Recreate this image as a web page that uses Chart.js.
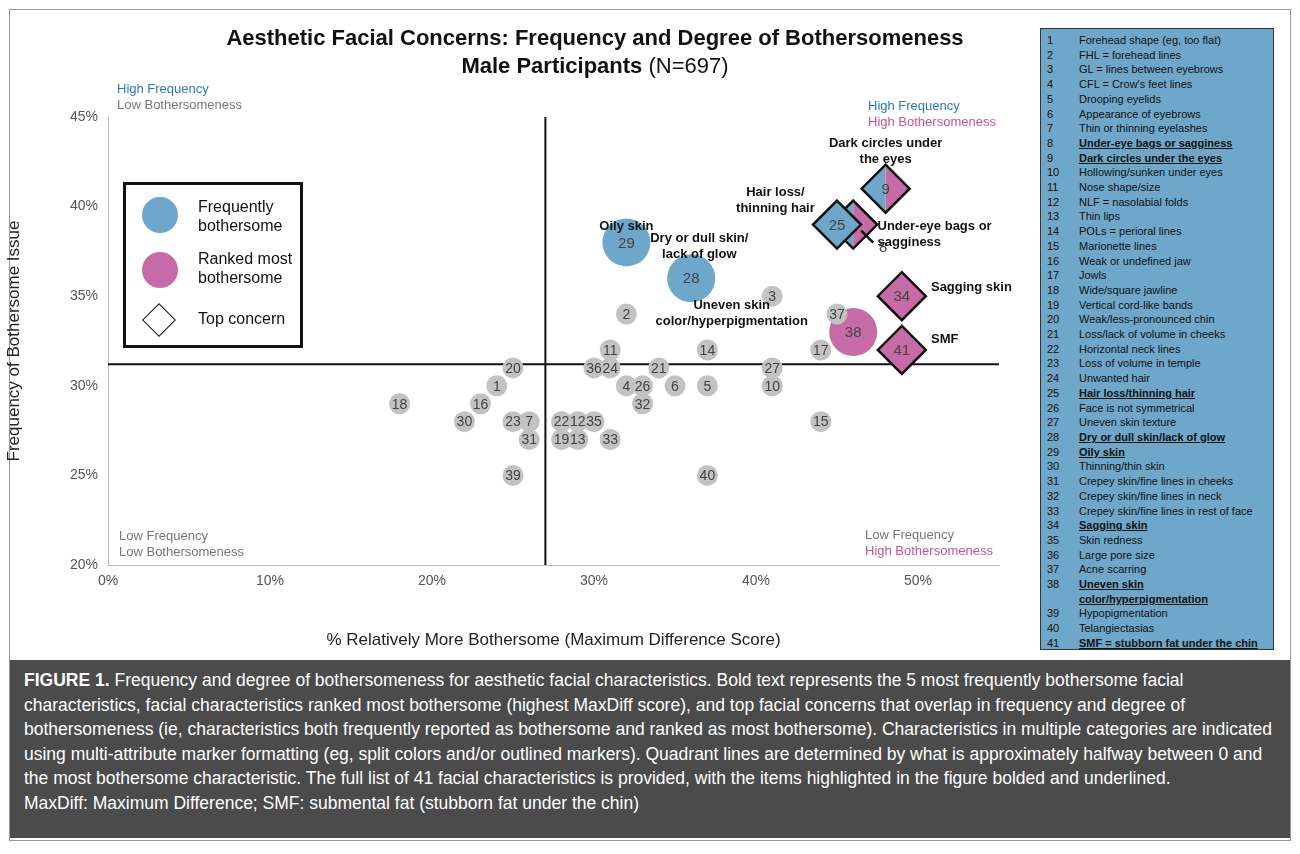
<!DOCTYPE html>
<html><head><meta charset="utf-8">
<script src="https://cdn.jsdelivr.net/npm/chart.js@4/dist/chart.umd.min.js"></script>
<style>
body{margin:0;width:1300px;height:854px;background:#fff;font-family:"Liberation Sans",Arial,sans-serif;position:relative;overflow:hidden}
#frame{position:absolute;left:9px;top:9px;width:1280px;height:830px;border:1px solid #999}
#wrap{position:absolute;left:0;top:0;width:1035px;height:655px}
.abs{position:absolute}
#title{left:100px;top:24px;width:990px;text-align:center;font-weight:bold;font-size:22px;line-height:28px;color:#111}
.q{font-size:13px;line-height:16px}
#panel{left:1040px;top:28px;width:234px;height:622px;background:#6ea7c9;border:1px solid #333;font-size:11px;color:#111;padding-top:4px;box-sizing:border-box}
#panel div{display:flex;line-height:14.7px}
#panel span.n{width:32px;padding-left:6px;flex:none}
#panel b{text-decoration:underline}
#cap{left:10px;top:660px;width:1280px;height:178px;background:#4b4b4b;color:#fff;font-family:"Liberation Sans Narrow","Liberation Sans",sans-serif;font-size:17.5px;line-height:24.5px;padding:8px 14px;box-sizing:border-box}
#leg{left:123px;top:182px;width:180px;height:166px;border:3px solid #111;box-sizing:border-box;font-size:16px;color:#111}
</style></head><body>
<div id="frame"></div>
<div id="wrap"><canvas id="c" width="1035" height="655"></canvas></div>
<div id="title" class="abs">Aesthetic Facial Concerns: Frequency and Degree of Bothersomeness<br>Male Participants <span style="font-weight:normal">(N=697)</span></div>
<div class="abs q" style="left:117px;top:81px"><span style="color:#2f79b5">High Frequency</span><br><span style="color:#777">Low Bothersomeness</span></div>
<div class="abs q" style="left:868px;top:98px"><span style="color:#2f79b5">High Frequency</span><br><span style="color:#c1559d">High Bothersomeness</span></div>
<div class="abs q" style="left:119px;top:528px;color:#777">Low Frequency<br>Low Bothersomeness</div>
<div class="abs q" style="left:865px;top:527px"><span style="color:#777">Low Frequency</span><br><span style="color:#c1559d">High Bothersomeness</span></div>
<div id="leg" class="abs">
 <div class="abs" style="left:16px;top:12px;width:36px;height:36px;border-radius:50%;background:#6ea7c9"></div>
 <div class="abs" style="left:72px;top:12px;line-height:19px">Frequently<br>bothersome</div>
 <div class="abs" style="left:16px;top:67px;width:36px;height:36px;border-radius:50%;background:#c76aa8"></div>
 <div class="abs" style="left:72px;top:64px;line-height:19px">Ranked most<br>bothersome</div>
 <div class="abs" style="left:21px;top:123px;width:22px;height:22px;border:1.5px solid #111;transform:rotate(45deg)"></div>
 <div class="abs" style="left:72px;top:125px">Top concern</div>
</div>
<div id="panel" class="abs"></div>
<div id="cap" class="abs"><b>FIGURE 1.</b> Frequency and degree of bothersomeness for aesthetic facial characteristics. Bold text represents the 5 most frequently bothersome facial characteristics, facial characteristics ranked most bothersome (highest MaxDiff score), and top facial concerns that overlap in frequency and degree of bothersomeness (ie, characteristics both frequently reported as bothersome and ranked as most bothersome). Characteristics in multiple categories are indicated using multi-attribute marker formatting (eg, split colors and/or outlined markers). Quadrant lines are determined by what is approximately halfway between 0 and the most bothersome characteristic. The full list of 41 facial characteristics is provided, with the items highlighted in the figure bolded and underlined.<br>MaxDiff: Maximum Difference; SMF: submental fat (stubborn fat under the chin)</div>
<script>
// characteristic list
const names = ["Forehead shape (eg, too flat)","FHL = forehead lines","GL = lines between eyebrows","CFL = Crow's feet lines","Drooping eyelids","Appearance of eyebrows","Thin or thinning eyelashes","Under-eye bags or sagginess","Dark circles under the eyes","Hollowing/sunken under eyes","Nose shape/size","NLF = nasolabial folds","Thin lips","POLs = perioral lines","Marionette lines","Weak or undefined jaw","Jowls","Wide/square jawline","Vertical cord-like bands","Weak/less-pronounced chin","Loss/lack of volume in cheeks","Horizontal neck lines","Loss of volume in temple","Unwanted hair","Hair loss/thinning hair","Face is not symmetrical","Uneven skin texture","Dry or dull skin/lack of glow","Oily skin","Thinning/thin skin","Crepey skin/fine lines in cheeks","Crepey skin/fine lines in neck","Crepey skin/fine lines in rest of face","Sagging skin","Skin redness","Large pore size","Acne scarring","Uneven skin color/hyperpigmentation","Hypopigmentation","Telangiectasias","SMF = stubborn fat under the chin"];
const boldIds = [8,9,25,28,29,34,38,41];

// gray points: id, x (% MaxDiff), y (% frequency)
const grayIds = [18,1,16,30,20,23,7,31,39,22,12,35,19,13,33,36,24,11,2,4,26,32,21,6,5,14,40,3,27,10,17,15,37];
const grayX   = [18,24,23,22,25,25,26,26,25,28,29,30,28,29,31,30,31,31,32,32,33,33,34,35,37,37,37,41,41,41,44,44,45];
const grayY   = [29,30,29,28,31,28,28,27,25,28,28,28,27,27,27,31,31,32,34,30,30,29,31,30,30,32,25,35,31,30,32,28,34];
// frequently bothersome (blue circles)
const blueIds = [29,28]; const blueX = [32,36]; const blueY = [38,36];
// ranked most bothersome (pink circle)
const pinkIds = [38]; const pinkX = [46]; const pinkY = [33];
// top concerns (diamonds)
const diaIds = [8,25,9,34,41]; const diaX = [46,45,48,49,49]; const diaY = [39,39,41,35,32];
const diaFill = ["split","blue","split","pink","pink"];
const quadX = 27, quadY = 31.2;

const panel = document.getElementById('panel');
names.forEach((n,i)=>{
  const d=document.createElement('div');
  const t = boldIds.includes(i+1) ? '<b>'+n+'</b>' : n;
  d.innerHTML='<span class="n">'+(i+1)+'</span><span>'+t+'</span>';
  panel.appendChild(d);
});

const BLUE='#6ea7c9', PINK='#c76aa8', GRAY='#c2c2c2';
const pts=(xs,ys)=>xs.map((x,i)=>({x,y:ys[i]}));

const overlay={id:'overlay',
  beforeDatasetsDraw(ch){
    const c=ch.ctx,xs=ch.scales.x,ys=ch.scales.y;
    c.save();c.strokeStyle='#111';c.lineWidth=2;
    c.beginPath();
    c.moveTo(xs.getPixelForValue(quadX),ys.getPixelForValue(45));c.lineTo(xs.getPixelForValue(quadX),ys.getPixelForValue(20));
    c.moveTo(xs.getPixelForValue(0),ys.getPixelForValue(quadY));c.lineTo(xs.getPixelForValue(55),ys.getPixelForValue(quadY));
    c.stroke();c.restore();
  },
  afterDatasetsDraw(ch){
    const c=ch.ctx;
    c.save();c.textAlign='center';c.textBaseline='middle';c.fillStyle='#444';
    const lab=(di,ids,fs)=>{ch.getDatasetMeta(di).data.forEach((p,i)=>{c.font=fs+'px "Liberation Sans",Arial';c.fillText(ids[i],p.x,p.y+1);});};
    lab(0,grayIds,14);lab(1,blueIds,15);lab(2,pinkIds,15);
    // diamonds with split fills
    const m=ch.getDatasetMeta(3), r=24;
    m.data.forEach((p,i)=>{
      const x=p.x,y=p.y,f=diaFill[i];
      const dia=()=>{c.beginPath();c.moveTo(x,y-r);c.lineTo(x+r,y);c.lineTo(x,y+r);c.lineTo(x-r,y);c.closePath();};
      if(f==='split'){
        c.save();dia();c.clip();
        c.fillStyle=BLUE;c.fillRect(x-r,y-r,r,2*r);c.fillStyle=PINK;c.fillRect(x,y-r,r,2*r);c.restore();
      }else{dia();c.fillStyle=f==='blue'?BLUE:PINK;c.fill();}
      dia();c.strokeStyle='#111';c.lineWidth=2.5;c.stroke();
      c.fillStyle='#444';c.font='15px "Liberation Sans",Arial';
      if(diaIds[i]===8){c.fillText('8',x+30,y+23);c.beginPath();c.moveTo(x+8,y+6);c.lineTo(x+20,y+18);c.stroke();}
      else c.fillText(diaIds[i],x,y+1);
      if(diaIds[i]===8)m.data.forEach((q,k)=>{ if(diaIds[k]===25){ // redraw 25 on top
        const X=q.x,Y=q.y;c.beginPath();c.moveTo(X,Y-r);c.lineTo(X+r,Y);c.lineTo(X,Y+r);c.lineTo(X-r,Y);c.closePath();}});
    });
    // callout text
    c.fillStyle='#111';c.font='bold 13px "Liberation Sans",Arial';
    const xs=ch.scales.x,ys=ch.scales.y;
    const t=(s,x,y,al)=>{c.textAlign=al||'center';s.split('\n').forEach((l,k)=>c.fillText(l,xs.getPixelForValue(x),ys.getPixelForValue(y)+k*16));};
    t('Dark circles under\nthe eyes',48,43.5);
    t('Hair loss/\nthinning hair',41.2,40.8);
    t('Under-eye bags or\nsagginess',47.5,38.9,'left');
    t('Oily skin',32,38.9);
    t('Dry or dull skin/\nlack of glow',36.5,38.2);
    t('Sagging skin',50.8,35.5,'left');
    t('SMF',50.8,32.6,'left');
    t('Uneven skin\ncolor/hyperpigmentation',38.5,34.5);
    c.restore();
  }};
// make diamond 25 appear above 8: order diamonds so 25 drawn last among overlap
diaIds.splice(0,2,8,25);

new Chart(document.getElementById('c'),{
  type:'scatter',
  data:{datasets:[
    {data:pts(grayX,grayY),backgroundColor:GRAY,borderWidth:0,pointRadius:10.5,pointHoverRadius:10.5},
    {data:pts(blueX,blueY),backgroundColor:BLUE,borderWidth:0,pointRadius:24,pointHoverRadius:24},
    {data:pts(pinkX,pinkY),backgroundColor:PINK,borderWidth:0,pointRadius:24,pointHoverRadius:24},
    {data:pts(diaX,diaY),backgroundColor:'rgba(0,0,0,0)',borderWidth:0,pointRadius:0,pointHoverRadius:0}
  ]},
  options:{responsive:false,animation:false,events:[],
    layout:{padding:{left:0,top:117,right:36,bottom:0}},
    plugins:{legend:{display:false},tooltip:{enabled:false}},
    scales:{
      x:{type:'linear',min:0,max:55,grid:{display:false,drawTicks:false},border:{color:'#bbb'},
        afterFit:s=>{s.height=90;},
        ticks:{stepSize:10,padding:8,color:'#555',font:{size:14},callback:v=>v%10===0&&v<=50?v+'%':''},
        title:{display:true,text:'% Relatively More Bothersome (Maximum Difference Score)',color:'#222',font:{size:17},padding:{top:6}}},
      y:{type:'linear',min:20,max:45,grid:{display:false,drawTicks:false},border:{color:'#bbb'},
        afterFit:s=>{s.width=108;},
        ticks:{stepSize:5,padding:10,color:'#555',font:{size:14},callback:v=>v+'%'},
        title:{display:true,text:'Frequency of Bothersome Issue',color:'#222',font:{size:17},padding:{bottom:14}}}
    }},
  plugins:[overlay]
});
</script>
</body></html>
